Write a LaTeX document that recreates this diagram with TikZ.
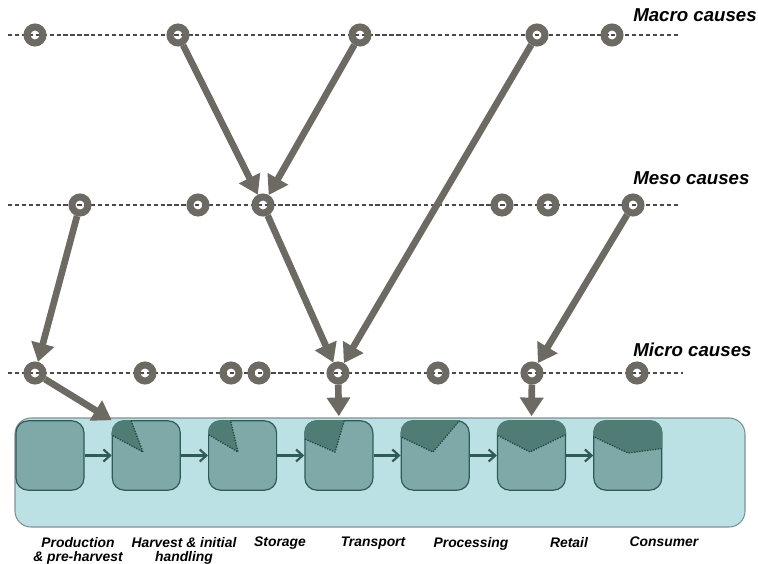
\documentclass[tikz,border=0pt]{standalone}
\usepackage{fontspec}
\setmainfont{Liberation Sans}
\usetikzlibrary{arrows.meta}

\definecolor{causegray}{HTML}{6D6A63}
\definecolor{levelgray}{HTML}{4A4A4A}
\definecolor{chainfill}{HTML}{BCE1E4}
\definecolor{chainline}{HTML}{7E9294}
\definecolor{stagefill}{HTML}{7EA9A8}
\definecolor{stageline}{HTML}{2F5A56}
\definecolor{lossfill}{HTML}{4F7D75}

\tikzset{
  cause/.style={circle,draw=causegray,line width=5.25pt,minimum size=12pt,inner sep=0pt},
  level/.style={draw=levelgray,line width=0.9pt,dash pattern=on 3.2pt off 2pt},
  causearrow/.style={draw=causegray,line width=5pt,-{Triangle[width=17pt,length=14pt]}},
  stagebox/.style={rectangle,rounded corners=9pt,draw=stageline,line width=0.9pt,fill=stagefill,minimum width=51pt,minimum height=52pt},
  flow/.style={draw=stageline,line width=1.6pt,-{Straight Barb[length=5pt,width=9pt]}},
  lossedge/.style={draw=stageline!80!black,line width=1pt,densely dotted},
  levellabel/.style={anchor=west,inner sep=0pt,font=\fontsize{14}{16}\selectfont\bfseries\itshape},
  stagelabel/.style={anchor=north,align=center,inner sep=0pt,font=\fontsize{10.4}{11}\selectfont\bfseries\itshape}
}

\begin{document}
\begin{tikzpicture}[x=0.75pt,y=-0.75pt]
\useasboundingbox (0,0) rectangle (758,564);

% the three levels of causes
\foreach \y/\xe in {35/680,205/680,373/683}
  \draw[level] (8,\y) -- (\xe,\y);

\foreach \x [count=\i] in {35,178,360,537,612}
  \node[cause] (ma\i) at (\x,35) {};
\foreach \x [count=\i] in {80,198,263,502,548,633}
  \node[cause] (me\i) at (\x,205) {};
\foreach \x [count=\i] in {35,145,231,259,338,438,532,637}
  \node[cause] (mi\i) at (\x,373) {};

\node[levellabel] (lma) at (633,15) {Macro causes};
\node[levellabel] (lme) at (633,178) {Meso causes};
\node[levellabel] (lmi) at (633,350) {Micro causes};

% supply chain
\draw[draw=chainline,fill=chainfill,line width=0.8pt,rounded corners=12pt] (15,418) rectangle (745,527);

\foreach \i in {1,...,7}
  \node[stagebox] (b\i) at ({50+96.3*(\i-1)},455.5) {};
\foreach \i in {1,...,6} {
  \pgfmathtruncatemacro\j{\i+1}
  \draw[flow] (b\i) -- (b\j);
}

% losses in each stage
\foreach \i/\ax/\ay/\lx/\ly/\rx/\ry in {2/143/452/108/433/130/418,
    3/238/452/204/432/230/418, 4/335/452/300/437/345/418,
    5/433/452/397/435/460/420, 6/530/452/493/433/569/433,
    7/628/453/590/435/666/448} {
  \begin{scope}
    \clip[rounded corners=9pt] (b\i.south west) rectangle (b\i.north east);
    \fill[lossfill] (\ax,\ay) -- (\lx,\ly) -- (\lx,414) -- (\rx,414) -- (\rx,\ry) -- cycle;
    \draw[lossedge] (\lx,\ly) -- (\ax,\ay) -- (\rx,\ry);
  \end{scope}
}

\node[stagelabel] (s1) at (78,537) {Production\\\& pre-harvest};
\node[stagelabel] (s2) at (184,537) {Harvest \& initial\\handling};
\node[stagelabel] (s3) at (280,537) {Storage};
\node[stagelabel] (s4) at (373,537) {Transport};
\node[stagelabel] (s5) at (471,537) {Processing};
\node[stagelabel] (s6) at (569,537) {Retail};
\node[stagelabel] (s7) at (664,537) {Consumer};

% causal links
\draw[causearrow] (ma2) -- (me3);
\draw[causearrow] (ma3) -- (me3);
\draw[causearrow] (ma4) -- (mi5);
\draw[causearrow] (me3) -- (mi5);
\draw[causearrow] (me1) -- (mi1);
\draw[causearrow] (me6) -- (mi7);
\draw[causearrow] (mi1) -- (b2.north west);
\draw[causearrow,shorten >=3pt] (mi5) -- (b4.north);
\draw[causearrow,shorten >=3pt] (mi7) -- (b6.north);
\end{tikzpicture}
\end{document}
